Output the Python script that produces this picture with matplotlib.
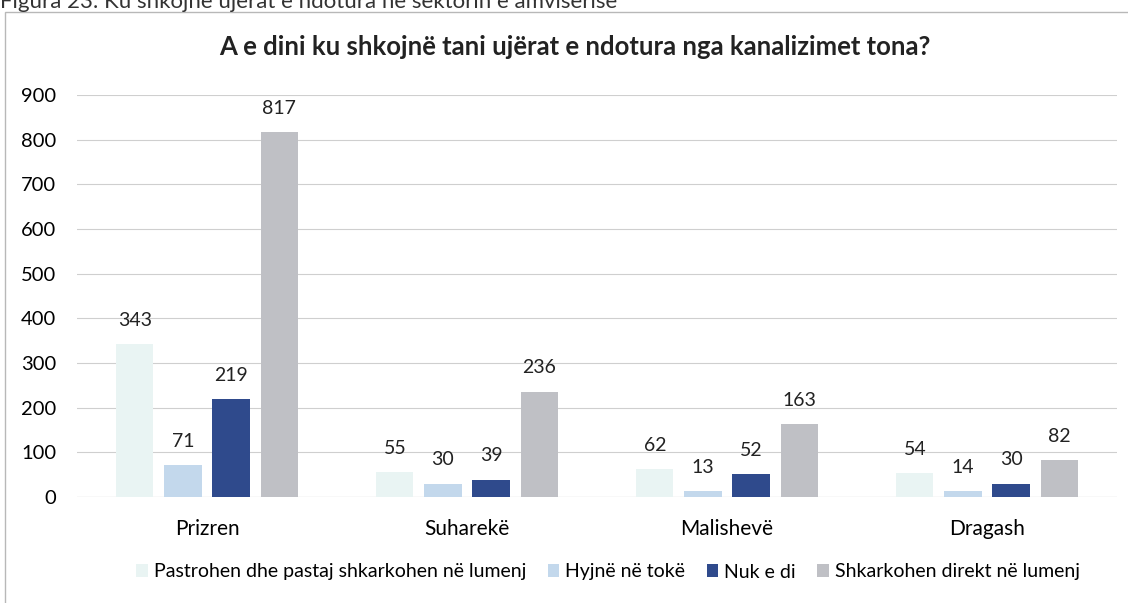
import matplotlib
matplotlib.use("Agg")
import matplotlib.pyplot as plt
from matplotlib.patches import Rectangle
import numpy as np

categories = ["Prizren", "Suharekë", "Malishevë", "Dragash"]
series_names = ["Pastrohen dhe pastaj shkarkohen në lumenj", "Hyjnë në tokë",
                "Nuk e di", "Shkarkohen direkt në lumenj"]
pastrohen = [343, 55, 62, 54]
hyjne = [71, 30, 13, 14]
nuk_e_di = [219, 39, 52, 30]
direkt = [817, 236, 163, 82]
yticks = [0, 100, 200, 300, 400, 500, 600, 700, 800, 900]

title = "A e dini ku shkojnë tani ujërat e ndotura nga kanalizimet tona?"
caption = "Figura 23: Ku shkojnë ujërat e ndotura në sektorin e amvisërisë"

colors = ["#e9f4f3", "#c3d8ec", "#2f4a8c", "#bfc0c5"]
font = ["Lato", "DejaVu Sans"]
plt.rcParams['font.family'] = font

fig = plt.figure(figsize=(11.28, 6.03), dpi=100)
fig.patch.set_facecolor("white")

# outer chart frame
fig.patches.append(Rectangle((5 / 1128, -0.01), 1.02, 1 - 12 / 603 + 0.01,
                             transform=fig.transFigure, fill=False,
                             edgecolor="#b8b8b8", linewidth=1.0))
# partially cut caption at the very top
fig.text(0.0, 1.0 - 8 / 603, caption, ha="left", va="baseline", fontsize=16,
         color="#333333")

ax = fig.add_axes([77 / 1128, 1 - 497 / 603, (1117 - 77) / 1128, (497 - 95) / 603])
data = [pastrohen, hyjne, nuk_e_di, direkt]
x = np.arange(len(categories))
step = 0.185
width = 0.143
for i, (vals, name, col) in enumerate(zip(data, series_names, colors)):
    pos = x + (i - 1.5) * step
    bars = ax.bar(pos, vals, width=width, color=col, label=name, zorder=3)
    for b, v in zip(bars, vals):
        ax.annotate(str(v), (b.get_x() + b.get_width() / 2, v),
                    xytext=(0, 17), textcoords="offset points",
                    ha="center", va="center", fontsize=14, color="#222222")

ax.set_xlim(-0.5, len(categories) - 0.5)
ax.set_ylim(0, 900)
ax.set_yticks(yticks)
ax.set_xticks(x)
ax.set_xticklabels(categories, fontsize=15)
ax.tick_params(axis="y", labelsize=14.5, length=0, pad=15)
ax.tick_params(axis="x", length=0, pad=16)
ax.grid(axis="y", color="#cfcfcf", linewidth=0.8, zorder=0)
for s in ax.spines.values():
    s.set_visible(False)
ax.axhline(0, color="#bdbdbd", linewidth=0.8, zorder=2)

fig.text(575 / 1128, 1 - 47 / 603, title, ha="center", va="center",
         fontsize=18.5, fontweight="bold", color="#222222")

handles, labels = ax.get_legend_handles_labels()
fig.legend(handles, labels, loc="center", bbox_to_anchor=(608 / 1128, 1 - 572 / 603),
           ncol=4, frameon=False, fontsize=14, handlelength=0.6, handleheight=0.6,
           handletextpad=0.3, columnspacing=1.1)

fig.savefig("out.png", dpi=100, facecolor="white")
